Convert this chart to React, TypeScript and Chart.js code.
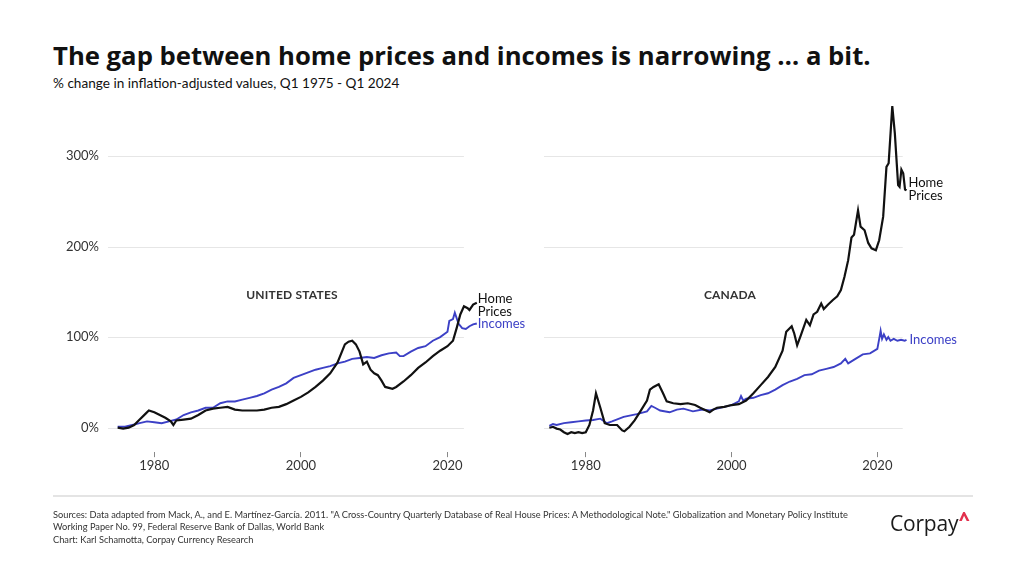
import React, { useEffect, useRef } from 'react';
import { Chart, registerables } from 'chart.js';

Chart.register(...registerables);
Chart.defaults.font.family = 'Lato, "Noto Sans", sans-serif';

// ---------- DATA ----------
const tickYears = [1980, 2000, 2020];
const yTickValues = [0, 100, 200, 300];

const usHomeYears = [1975, 1975.75, 1976.5, 1977.25, 1978, 1978.75, 1979.25, 1980, 1980.75, 1981.5, 1982.25, 1982.6, 1983, 1984, 1985, 1986, 1987, 1988, 1989, 1990, 1991, 1992, 1993, 1994, 1995, 1996, 1997, 1998, 1999, 2000, 2001, 2002, 2003, 2004, 2005, 2006, 2006.5, 2007, 2007.5, 2008, 2008.5, 2009, 2009.5, 2010, 2010.5, 2011, 2011.5, 2012, 2012.5, 2013, 2014, 2015, 2016, 2017, 2018, 2019, 2020, 2020.75, 2021.25, 2021.75, 2022.25, 2022.75, 2023, 2023.5, 2024];
const usHomePrices = [0, -1, 0, 3, 9, 15, 19, 17, 14, 11, 7, 3, 8, 9, 10, 14, 19, 21, 22, 23, 20, 19, 19, 19, 20, 22, 23, 26, 30, 34, 39, 45, 52, 60, 72, 92, 95, 96, 92, 84, 70, 73, 64, 60, 58, 52, 45, 44, 43, 45, 51, 58, 66, 72, 79, 85, 90, 96, 110, 125, 134, 132, 130, 136, 138];

const usIncomeYears = [1975, 1976, 1977, 1978, 1979, 1980, 1981, 1982, 1983, 1984, 1985, 1986, 1987, 1988, 1989, 1990, 1991, 1992, 1993, 1994, 1995, 1996, 1997, 1998, 1999, 2000, 2001, 2002, 2003, 2004, 2005, 2006, 2007, 2008, 2009, 2010, 2011, 2012, 2013, 2013.5, 2014, 2015, 2016, 2017, 2018, 2019, 2020, 2020.25, 2020.75, 2021, 2021.5, 2022, 2022.5, 2023, 2023.5, 2024];
const usIncomes = [1, 1, 3, 5, 7, 6, 5, 7, 9, 14, 17, 19, 22, 22, 27, 29, 29, 31, 33, 35, 38, 42, 45, 49, 55, 58, 61, 64, 66, 68, 71, 73, 76, 77, 78, 77, 80, 82, 83, 79, 79, 84, 88, 90, 96, 100, 106, 118, 120, 127, 115, 110, 109, 112, 114, 115];

const caHomeYears = [1975, 1975.5, 1976, 1976.5, 1977, 1977.5, 1978, 1978.5, 1979, 1979.5, 1980, 1980.5, 1981, 1981.4, 1982, 1982.6, 1983.3, 1984.3, 1985, 1985.3, 1986, 1986.7, 1987.4, 1988.4, 1988.8, 1989.3, 1990, 1990.6, 1991.1, 1992, 1993, 1994, 1995, 1995.7, 1996.5, 1997, 1997.5, 1998, 1999, 2000, 2001, 2002, 2003, 2004, 2005, 2006, 2007, 2007.5, 2008.25, 2008.6, 2009, 2009.5, 2010.25, 2010.75, 2011.25, 2011.75, 2012.3, 2012.65, 2013.25, 2013.9, 2014.5, 2015, 2015.5, 2016, 2016.45, 2016.8, 2017.35, 2017.7, 2018.25, 2018.75, 2019.2, 2019.8, 2020.25, 2020.8, 2021.25, 2021.55, 2022.05, 2022.4, 2022.85, 2023.05, 2023.3, 2023.55, 2023.8, 2024];
const caHomePrices = [0, 1, -1, -2, -5, -7, -5, -6, -5, -6, -5, 3, 19, 38, 22, 5, 3, 3, -3, -4, 1, 8, 17, 30, 42, 45, 48, 38, 29, 27, 26, 27, 25, 22, 19, 17, 20, 22, 23, 25, 26, 30, 38, 47, 56, 67, 85, 106, 112, 104, 91, 102, 119, 113, 125, 128, 137, 131, 136, 141, 145, 152, 167, 185, 210, 213, 240, 222, 218, 204, 198, 196, 207, 233, 288, 292, 355, 325, 268, 266, 285, 281, 263, 262];

const caIncomeYears = [1975, 1975.5, 1976, 1977, 1978, 1979, 1980, 1981, 1982, 1982.9, 1983.6, 1985.2, 1987, 1988.4, 1989, 1989.5, 1990.2, 1991.5, 1992.5, 1993.4, 1994.7, 1996, 1997, 1998, 1999, 2000, 2001, 2001.3, 2001.6, 2002, 2003, 2004, 2005, 2006, 2007, 2008, 2009, 2010, 2011, 2012, 2013, 2014, 2015, 2015.6, 2016, 2017, 2018, 2019, 2020, 2020.3, 2020.45, 2020.65, 2020.9, 2021.25, 2021.5, 2021.8, 2022.25, 2022.75, 2023.25, 2023.75, 2024];
const caIncomes = [2, 4, 3, 5, 6, 7, 8, 8.5, 10, 5, 7, 12, 15, 18, 24, 22, 19, 17, 20, 21, 18, 20, 19, 21, 23, 25, 29, 35, 30, 32, 33, 36, 38, 42, 47, 51, 54, 58, 59, 63, 65, 67, 71, 76, 71, 76, 81, 82, 87, 100, 107, 98, 103, 97, 100, 96, 98, 96, 97, 96, 97];

// ---------- STYLE ----------
const HOME_COLOR = '#111111';
const INCOME_COLOR = '#3c40c6';
const TEXT_COLOR = '#333333';
const GRID_COLOR = '#e6e6e6';

const toPoints = (xs: number[], ys: number[]) => xs.map((x, i) => ({ x, y: ys[i] }));

const gridPlugin = {
  id: 'shortGrid',
  beforeDatasetsDraw(chart: any, _args: any, opts: any) {
    const { ctx, chartArea, scales } = chart;
    const xEnd = scales.x.getPixelForValue(opts.endYear);
    ctx.save();
    ctx.strokeStyle = GRID_COLOR;
    ctx.lineWidth = 1;
    yTickValues.forEach((v) => {
      const y = Math.round(scales.y.getPixelForValue(v)) + 0.5;
      ctx.beginPath();
      ctx.moveTo(chartArea.left, y);
      ctx.lineTo(xEnd, y);
      ctx.stroke();
    });
    ctx.restore();
  },
};

const endLabelPlugin = {
  id: 'endLabels',
  afterDatasetsDraw(chart: any, _args: any, opts: any) {
    const ctx = chart.ctx;
    (opts.items || []).forEach((item: any) => {
      const meta = chart.getDatasetMeta(item.dataset);
      const pt = meta.data[meta.data.length - 1];
      if (!pt) return;
      ctx.save();
      ctx.font = '13px Lato, "Noto Sans", sans-serif';
      ctx.fillStyle = item.color;
      ctx.textBaseline = 'middle';
      ctx.textAlign = 'left';
      item.lines.forEach((line: string, i: number) => {
        ctx.fillText(line, pt.x + item.dx, pt.y + item.dy + i * 13);
      });
      ctx.restore();
    });
  },
};

interface PanelProps {
  left: number;
  width: number;
  homeYears: number[];
  home: number[];
  incomeYears: number[];
  income: number[];
  xMin: number;
  xMax: number;
  gridEnd: number;
  showYLabels: boolean;
  yAxisWidth: number;
  padRight: number;
  labels: any[];
}

function Panel(p: PanelProps) {
  const ref = useRef<HTMLCanvasElement>(null);
  useEffect(() => {
    const yMin = -27;
    const yMax = 360;
    const chart = new Chart(ref.current as HTMLCanvasElement, {
      type: 'line',
      data: {
        datasets: [
          {
            label: 'Home Prices',
            data: toPoints(p.homeYears, p.home),
            borderColor: HOME_COLOR,
            borderWidth: 2.2,
            pointRadius: 0,
            tension: 0,
            clip: false as any,
            order: 1,
          },
          {
            label: 'Incomes',
            data: toPoints(p.incomeYears, p.income),
            borderColor: INCOME_COLOR,
            borderWidth: 1.9,
            pointRadius: 0,
            tension: 0,
            clip: false as any,
            order: 2,
          },
        ],
      },
      options: {
        responsive: false,
        animation: false,
        devicePixelRatio: 1,
        parsing: false as any,
        layout: {
          padding: { left: 0, right: p.padRight, top: 101.65, bottom: 576 - 452.15 - 40 },
        },
        plugins: {
          legend: { display: false },
          tooltip: { enabled: false },
          title: { display: false },
          endLabels: { items: p.labels },
          shortGrid: { endYear: p.gridEnd },
        } as any,
        scales: {
          x: {
            type: 'linear',
            min: p.xMin,
            max: p.xMax,
            border: { display: false },
            grid: {
              display: true,
              drawOnChartArea: false,
              drawTicks: true,
              tickLength: 5,
              color: '#888888',
              lineWidth: 1,
            },
            afterBuildTicks: (scale: any) => {
              scale.ticks = tickYears.map((v) => ({ value: v }));
            },
            afterFit: (scale: any) => {
              scale.height = 40;
            },
            ticks: {
              color: TEXT_COLOR,
              font: { size: 13 },
              padding: 1,
              maxRotation: 0,
              autoSkip: false,
              callback: (v: any) => String(v),
            },
          },
          y: {
            type: 'linear',
            min: yMin,
            max: yMax,
            border: { display: false },
            grid: {
              display: false,
              drawTicks: false,
            },
            afterBuildTicks: (scale: any) => {
              scale.ticks = yTickValues.map((v) => ({ value: v }));
            },
            afterFit: (scale: any) => {
              scale.width = p.yAxisWidth;
            },
            ticks: {
              display: p.showYLabels,
              color: TEXT_COLOR,
              font: { size: 13 },
              padding: 9,
              callback: (v: any) => v + '%',
            },
          },
        },
      },
      plugins: [gridPlugin as any, endLabelPlugin as any],
    });
    return () => chart.destroy();
  }, []);
  return (
    <canvas
      ref={ref}
      width={p.width}
      height={576}
      style={{ position: 'absolute', left: p.left, top: 0, width: p.width, height: 576 }}
    />
  );
}

const font = 'Lato, "Noto Sans", sans-serif';

export default function App() {
  useEffect(() => {
    document.body.style.margin = '0';
  }, []);
  return (
    <div
      style={{
        position: 'absolute',
        left: 0,
        top: 0,
        width: 1024,
        height: 576,
        background: '#ffffff',
        overflow: 'hidden',
        fontFamily: font,
        color: '#111',
      }}
    >
      <div
        style={{
          position: 'absolute',
          left: 53,
          top: 41,
          fontSize: 25.7,
          lineHeight: 1.2,
          fontWeight: 700,
          fontFamily: '"Open Sans", sans-serif',
          letterSpacing: 0,
          whiteSpace: 'nowrap',
          color: '#111',
        }}
      >
        The gap between home prices and incomes is narrowing … a bit.
      </div>
      <div
        style={{
          position: 'absolute',
          left: 53,
          top: 75,
          fontSize: 13.6,
          lineHeight: 1.2,
          whiteSpace: 'nowrap',
          color: '#111',
        }}
      >
        % change in inflation-adjusted values, Q1 1975 - Q1 2024
      </div>

      <Panel
        left={0}
        width={560}
        homeYears={usHomeYears}
        home={usHomePrices}
        incomeYears={usIncomeYears}
        income={usIncomes}
        xMin={1973.68}
        xMax={2024}
        gridEnd={2022.24}
        showYLabels={true}
        yAxisWidth={108}
        padRight={560 - 476.8}
        labels={[
          { dataset: 0, lines: ['Home', 'Prices'], dx: 1, dy: -4, color: HOME_COLOR },
          { dataset: 1, lines: ['Incomes'], dx: 1, dy: 0, color: INCOME_COLOR },
        ]}
      />
      <Panel
        left={520}
        width={504}
        homeYears={caHomeYears}
        home={caHomePrices}
        incomeYears={caIncomeYears}
        income={caIncomes}
        xMin={1974.27}
        xMax={2024}
        gridEnd={2023.48}
        showYLabels={false}
        yAxisWidth={24}
        padRight={504 - 386.5}
        labels={[
          { dataset: 0, lines: ['Home', 'Prices'], dx: 2, dy: -8, color: HOME_COLOR },
          { dataset: 1, lines: ['Incomes'], dx: 3, dy: 0, color: INCOME_COLOR },
        ]}
      />

      <div
        style={{
          position: 'absolute',
          left: 292,
          top: 294,
          transform: 'translate(-50%, -50%)',
          fontSize: 12,
          fontWeight: 700,
          color: TEXT_COLOR,
          whiteSpace: 'nowrap',
          letterSpacing: 0.2,
        }}
      >
        UNITED STATES
      </div>
      <div
        style={{
          position: 'absolute',
          left: 730,
          top: 294,
          transform: 'translate(-50%, -50%)',
          fontSize: 12,
          fontWeight: 700,
          color: TEXT_COLOR,
          whiteSpace: 'nowrap',
          letterSpacing: 0.2,
        }}
      >
        CANADA
      </div>

      <div
        style={{
          position: 'absolute',
          left: 53,
          top: 495,
          width: 920,
          height: 1.5,
          background: '#e4e4e4',
        }}
      />
      <div
        style={{
          position: 'absolute',
          left: 53,
          top: 508.5,
          fontSize: 9.25,
          lineHeight: '12.5px',
          color: '#333',
          whiteSpace: 'nowrap',
        }}
      >
        <div>
          Sources: Data adapted from Mack, A., and E. Martínez-García. 2011. "A Cross-Country Quarterly Database of Real House Prices: A Methodological Note." Globalization and Monetary Policy Institute
        </div>
        <div>Working Paper No. 99, Federal Reserve Bank of Dallas, World Bank</div>
        <div>Chart: Karl Schamotta, Corpay Currency Research</div>
      </div>
      <div
        style={{
          position: 'absolute',
          left: 890,
          top: 513,
          fontSize: 21,
          lineHeight: 1,
          fontFamily: '"Open Sans", sans-serif',
          color: '#1a1a1a',
          whiteSpace: 'nowrap',
          letterSpacing: -0.2,
        }}
      >
        Corpay
        <span style={{ color: '#e2304d', fontWeight: 800, fontSize: 19, position: 'relative', top: -5, marginLeft: 1 }}>^</span>
      </div>
    </div>
  );
}
